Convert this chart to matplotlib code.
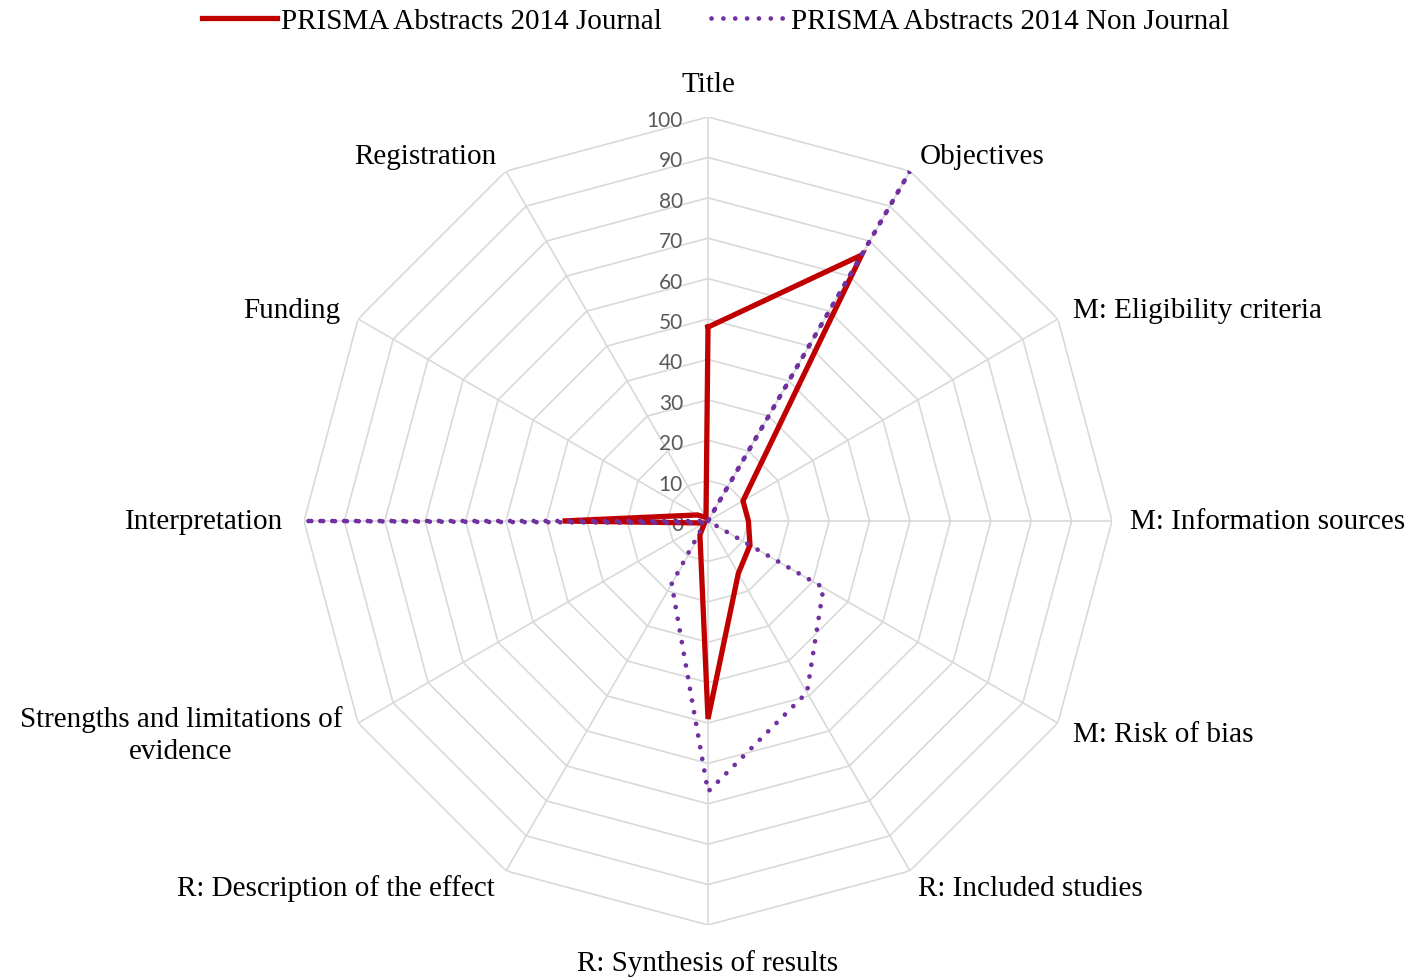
import numpy as np
import matplotlib
matplotlib.use("Agg")
import matplotlib.pyplot as plt
from matplotlib.lines import Line2D

categories = ["Title", "Objectives", "M: Eligibility criteria", "M: Information sources",
              "M: Risk of bias", "R: Included studies", "R: Synthesis of results",
              "R: Description of the effect", "Strengths and limitations of\nevidence",
              "Interpretation", "Funding", "Registration"]
journal = [48, 76, 10, 10, 12, 15, 49, 4, 1, 36, 3, 1]
non_journal = [0, 100, 0, 0, 33, 49, 67, 18, 1, 100, 0, 0]
series_names = ["PRISMA Abstracts 2014 Journal", "PRISMA Abstracts 2014 Non Journal"]
ticks = [0, 10, 20, 30, 40, 50, 60, 70, 80, 90, 100]

RED = "#c00000"
PURPLE = "#7030a0"
GRID = "#d9d9d9"
SERIF = "Liberation Serif"
DOTS = (0, (0.01, 2.5))

W, H = 1411, 979
fig = plt.figure(figsize=(W / 100, H / 100), dpi=100)
cx, cy, R = 708, 522, 404
ax = fig.add_axes([(cx - R) / W, (H - cy - R) / H, 2 * R / W, 2 * R / H], projection="polar")
ax.set_theta_zero_location("N")
ax.set_theta_direction(-1)
ax.set_ylim(0, 100)
ax.axis("off")

n = len(categories)
angles = np.arange(n) * 2 * np.pi / n
closed = np.append(angles, angles[0])

# grid polygons
for t in ticks[1:]:
    ax.plot(closed, [t] * (n + 1), color=GRID, lw=1.2, zorder=1)
for a in angles:
    ax.plot([a, a], [0, 100], color=GRID, lw=1.2, zorder=1)

# tick labels
for t in ticks:
    ax.annotate(str(t), xy=(0, t), xytext=(-25, -3), textcoords="offset pixels",
                ha="right", va="center", fontsize=15, color="#595959", family="Lato",
                zorder=2)

# series
ax.plot(closed, np.append(journal, journal[0]), color=RED, lw=3.8, zorder=3,
        solid_joinstyle="miter")
ax.plot(closed, np.append(non_journal, non_journal[0]), color=PURPLE, lw=3.4,
        linestyle=DOTS, dash_capstyle="round", zorder=4)

# category labels
offsets = [(0, 33, "center"), (10, 15, "left"), (15, 9, "left"), (18, 0, "left"),
           (15, -11, "left"), (8, -17, "left"), (0, -38, "center"), (-11, -17, "right"),
           (-16, -12, "right"), (-21, 0, "right"), (-18, 9, "right"), (-10, 15, "right")]
for a, lab, (dx, dy, ha) in zip(angles, categories, offsets):
    ax.annotate(lab, xy=(a, 100), xytext=(dx, dy), textcoords="offset pixels",
                ha=ha, va="center", fontsize=21, family=SERIF, color="black",
                multialignment="center", linespacing=1.3)

handles = [Line2D([], [], color=RED, lw=3.8),
           Line2D([], [], color=PURPLE, lw=3.4, linestyle=DOTS, dash_capstyle="round")]
fig.legend(handles, series_names, loc="center", bbox_to_anchor=(0.507, 1 - 22 / H),
           ncol=2, frameon=False, prop={"family": SERIF, "size": 21},
           handlelength=2.6, handletextpad=0.12, columnspacing=1.7)

fig.savefig("out.png", dpi=100)
